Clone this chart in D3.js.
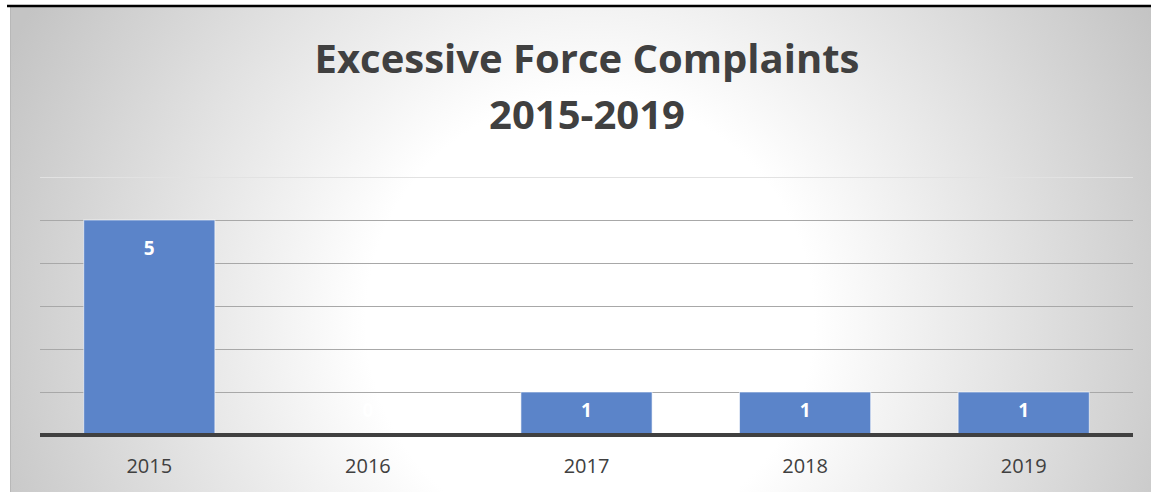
<!DOCTYPE html>
<html>
<head>
<meta charset="utf-8">
<script src="https://cdn.jsdelivr.net/npm/d3@7"></script>
<style>
  html, body { margin: 0; padding: 0; background: #fff; }
  svg { display: block; }
</style>
</head>
<body>
<svg id="chart"></svg>
<script>
'use strict';

// data
var years = ["2015", "2016", "2017", "2018", "2019"];
var complaints = [5, 0, 1, 1, 1];
var gridTicks = [0, 1, 2, 3, 4, 5, 6];
var titleLines = ["Excessive Force Complaints", "2015-2019"];

var width = 1151,
    height = 492;

var margin = { top: 177, right: 18, bottom: 57, left: 40 };

var svg = d3.select("svg#chart")
    .attr("width", width)
    .attr("height", height);

// background: radial gradient, white near the middle, grey at the corners
var defs = svg.append("defs");
var grad = defs.append("radialGradient")
    .attr("id", "bg")
    .attr("gradientUnits", "userSpaceOnUse")
    .attr("cx", 590).attr("cy", 320)
    .attr("r", 640);
grad.append("stop").attr("offset", "0%").attr("stop-color", "#ffffff");
grad.append("stop").attr("offset", "35%").attr("stop-color", "#ffffff");
grad.append("stop").attr("offset", "100%").attr("stop-color", "#c4c4c4");

svg.append("rect")
    .attr("x", 10).attr("y", 7)
    .attr("width", width - 10).attr("height", height - 7)
    .attr("fill", "url(#bg)");

// left edge and the heavy top rule
svg.append("line")
    .attr("x1", 10.5).attr("x2", 10.5)
    .attr("y1", 7).attr("y2", height)
    .attr("stroke", "#b8b8b8").attr("stroke-width", 1);
svg.append("line")
    .attr("x1", 7).attr("x2", width)
    .attr("y1", 6).attr("y2", 6)
    .attr("stroke", "#000").attr("stroke-width", 2.5);

// title
svg.append("g")
    .attr("class", "title")
  .selectAll("text")
  .data(titleLines)
  .enter().append("text")
    .attr("x", 587)
    .attr("y", function(d, i) { return 73 + i * 56; })
    .attr("text-anchor", "middle")
    .attr("font-family", "'Open Sans', sans-serif")
    .attr("font-weight", "bold")
    .attr("font-size", 40)
    .attr("fill", "#404040")
    .text(function(d) { return d; });

var x = d3.scaleBand()
    .domain(years)
    .range([margin.left, width - margin.right])
    .paddingInner(0.4)
    .paddingOuter(0.2);

var y = d3.scaleLinear()
    .domain([0, 6])
    .range([height - margin.bottom, margin.top]);

// gridlines
svg.append("g")
    .attr("class", "grid")
  .selectAll("line")
  .data(gridTicks.filter(function(d) { return d > 0; }))
  .enter().append("line")
    .attr("x1", margin.left)
    .attr("x2", width - margin.right)
    .attr("y1", function(d) { return Math.round(y(d)) + 0.5; })
    .attr("y2", function(d) { return Math.round(y(d)) + 0.5; })
    .attr("stroke", function(d) { return d === 6 ? "#e2e2e2" : "#a8a8a8"; })
    .attr("stroke-width", 1);

// bars
svg.append("g")
    .attr("class", "bars")
  .selectAll("rect")
  .data(complaints)
  .enter().append("rect")
    .attr("x", function(d, i) { return x(years[i]); })
    .attr("y", function(d) { return y(d); })
    .attr("width", x.bandwidth())
    .attr("height", function(d) { return y(0) - y(d); })
    .attr("fill", "#5b84c9")
    .attr("stroke", "rgba(255,255,255,0.6)")
    .attr("stroke-width", 1);

// value labels, inside end; short bars (and the 0) sit just above the axis
svg.append("g")
    .attr("class", "labels")
  .selectAll("text")
  .data(complaints)
  .enter().append("text")
    .attr("x", function(d, i) { return x(years[i]) + x.bandwidth() / 2; })
    .attr("y", function(d) { return Math.min(y(d) + 28, y(0) - 25); })
    .attr("dy", "0.36em")
    .attr("text-anchor", "middle")
    .attr("font-family", "'Open Sans', sans-serif")
    .attr("font-weight", "bold")
    .attr("font-size", 19)
    .attr("fill", "#ffffff")
    .text(function(d) { return d; });

// x axis
var xAxis = svg.append("g")
    .attr("transform", "translate(0," + y(0) + ")")
    .call(d3.axisBottom(x).tickSize(0).tickPadding(24));

xAxis.select(".domain")
    .attr("d", "M" + margin.left + ",0H" + (width - margin.right))
    .attr("stroke", "#404040")
    .attr("stroke-width", 4);

xAxis.selectAll("text")
    .attr("font-family", "'Open Sans', sans-serif")
    .attr("font-size", 20)
    .attr("fill", "#404040");

</script>
</body>
</html>
